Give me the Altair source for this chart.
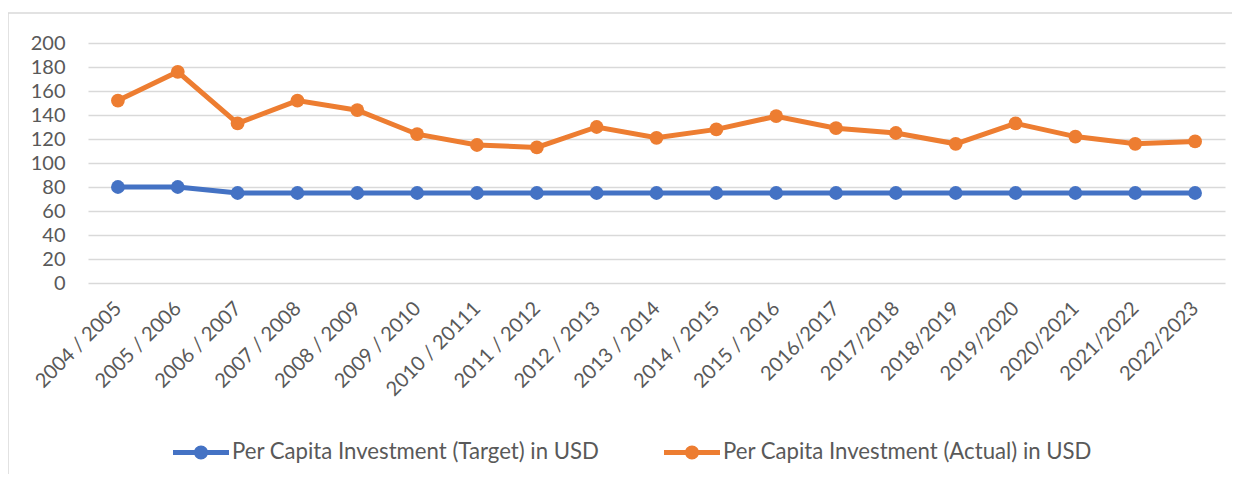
import altair as alt
import pandas as pd

years = ["2004 / 2005", "2005 / 2006", "2006 / 2007", "2007 / 2008", "2008 / 2009",
         "2009 / 2010", "2010 / 20111", "2011 / 2012", "2012 / 2013", "2013 / 2014",
         "2014 / 2015", "2015 / 2016", "2016/2017", "2017/2018", "2018/2019",
         "2019/2020", "2020/2021", "2021/2022", "2022/2023"]
target = [80, 80, 75, 75, 75, 75, 75, 75, 75, 75, 75, 75, 75, 75, 75, 75, 75, 75, 75]
actual = [152, 176, 133, 152, 144, 124, 115, 113, 130, 121, 128, 139, 129, 125, 116, 133, 122, 116, 118]
series_names = ["Per Capita Investment (Target) in USD", "Per Capita Investment (Actual) in USD"]
colors = ["#4472C4", "#ED7D31"]

rows = []
for i, y in enumerate(years):
    rows.append({"year": y, "series": series_names[0], "value": target[i]})
    rows.append({"year": y, "series": series_names[1], "value": actual[i]})
df = pd.DataFrame(rows)

FONT = "Lato"
TXT = "#595959"

legend_symbol = ("M -1 -0.09 L 1 -0.09 L 1 0.09 L -1 0.09 Z "
                 "M 0.25 0 A 0.25 0.25 0 1 1 -0.25 0 A 0.25 0.25 0 1 1 0.25 0 Z")

x_enc = alt.X("year:N", sort=years,
              axis=alt.Axis(title=None, labelAngle=-45, labelAlign="right", labelBaseline="middle",
                            labelFont=FONT, labelFontSize=20, labelColor=TXT, labelPadding=22,
                            ticks=False, domain=False, grid=False, labelOverlap=False))
y_enc = alt.Y("value:Q", scale=alt.Scale(domain=[0, 200], nice=False),
              axis=alt.Axis(title=None, values=list(range(0, 201, 20)), labelFont=FONT,
                            labelFontSize=20, labelColor=TXT, labelPadding=23, ticks=False,
                            domain=False, grid=True, gridColor="#d9d9d9", gridWidth=1.3))
color_enc = alt.Color("series:N", scale=alt.Scale(domain=series_names, range=colors),
                      legend=alt.Legend(title=None, orient="none", legendX=85, legendY=381,
                                        direction="horizontal", symbolType=legend_symbol,
                                        symbolSize=3136, symbolStrokeWidth=0,
                                        labelFont=FONT, labelFontSize=22.2, labelColor=TXT,
                                        labelLimit=0, labelOffset=3, columnPadding=64))

base = alt.Chart(df)
lines = base.mark_line(strokeWidth=5).encode(x=x_enc, y=y_enc, color=color_enc, detail="series:N")
points = base.mark_point(filled=True, size=190, opacity=1).encode(
    x=x_enc, y=y_enc, color=alt.Color("series:N", scale=alt.Scale(domain=series_names, range=colors), legend=None))

frame_df = pd.DataFrame({"k": [1]})
frame_left = alt.Chart(frame_df).mark_rule(color="#d9d9d9", strokeWidth=1.5).encode(
    x=alt.value(-80), y=alt.value(-30), y2=alt.value(440))
frame_top = alt.Chart(frame_df).mark_rule(color="#d9d9d9", strokeWidth=1.5).encode(
    x=alt.value(-80), x2=alt.value(1150), y=alt.value(-30))

chart = alt.layer(frame_left, frame_top, lines, points).properties(
    width=1137, height=240,
    autosize=alt.AutoSizeParams(type="none"),
    padding={"left": 80, "top": 35, "right": 7, "bottom": 191},
).configure_view(stroke=None)

chart.save("out.html", embed_options={"renderer": "svg", "actions": False})
